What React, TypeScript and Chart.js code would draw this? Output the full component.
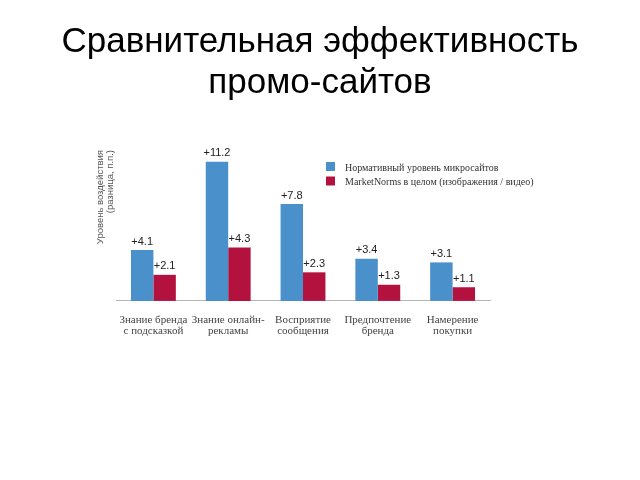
import React, { useEffect, useRef } from "react";
import { Chart, registerables } from "chart.js";

Chart.register(...registerables);

const titleLines = ["Сравнительная эффективность", "промо-сайтов"];
const categories = [
  ["Знание бренда", "с подсказкой"],
  ["Знание онлайн-", "рекламы"],
  ["Восприятие", "сообщения"],
  ["Предпочтение", "бренда"],
  ["Намерение", "покупки"],
];
const seriesNames = [
  "Нормативный уровень микросайтов",
  "MarketNorms в целом (изображения / видео)",
];
const microsites = [4.1, 11.2, 7.8, 3.4, 3.1];
const marketNorms = [2.1, 4.3, 2.3, 1.3, 1.1];
const yTitle = ["Уровень воздействия", "(разница, п.п.)"];
const colors = ["#4a90ca", "#b3123f"];

const bigTitle = {
  id: "bigTitle",
  afterDraw(chart: any) {
    const ctx = chart.ctx;
    ctx.save();
    ctx.font = "35px 'Liberation Sans', Arial, sans-serif";
    ctx.fillStyle = "#000";
    ctx.textAlign = "center";
    ctx.textBaseline = "middle";
    titleLines.forEach((t, i) => {
      ctx.fillText(t, chart.width / 2, 42 + i * 41);
    });
    ctx.restore();
  },
};

const valueLabels = {
  id: "valueLabels",
  afterDatasetsDraw(chart: any) {
    const ctx = chart.ctx;
    ctx.save();
    ctx.font = "11px 'Liberation Sans', Arial, sans-serif";
    ctx.fillStyle = "#222";
    ctx.textAlign = "center";
    ctx.textBaseline = "bottom";
    chart.data.datasets.forEach((ds: any, di: number) => {
      const meta = chart.getDatasetMeta(di);
      meta.data.forEach((el: any, i: number) => {
        ctx.fillText("+" + ds.data[i], el.x, el.y - 3);
      });
    });
    ctx.restore();
  },
};

const customLegend = {
  id: "customLegend",
  afterDraw(chart: any) {
    const ctx = chart.ctx;
    const a = chart.chartArea;
    const x = a.left + 210;
    const y = a.top + 12;
    ctx.save();
    ctx.font = "10px 'Liberation Serif', 'Times New Roman', serif";
    ctx.textBaseline = "middle";
    ctx.textAlign = "left";
    chart.data.datasets.forEach((ds: any, i: number) => {
      const yy = y + i * 14.5;
      ctx.fillStyle = ds.backgroundColor;
      ctx.fillRect(x, yy, 9, 9);
      ctx.fillStyle = "#333";
      ctx.fillText(ds.label, x + 19, yy + 6);
    });
    ctx.restore();
  },
};

export default function App() {
  const ref = useRef<HTMLCanvasElement>(null);
  useEffect(() => {
    if (!ref.current) return;
    const chart = new Chart(ref.current, {
      type: "bar",
      data: {
        labels: categories,
        datasets: [
          { label: seriesNames[0], data: microsites, backgroundColor: colors[0] },
          { label: seriesNames[1], data: marketNorms, backgroundColor: colors[1] },
        ],
      },
      plugins: [valueLabels, customLegend, bigTitle],
      options: {
        responsive: false,
        animation: false,
        layout: { padding: { left: 94, right: 150, top: 150, bottom: 130 } },
        datasets: {
          bar: { categoryPercentage: 0.6, barPercentage: 1.0 },
        },
        plugins: {
          legend: { display: false },
          tooltip: { enabled: false },
          title: { display: false },
        },
        scales: {
          x: {
            grid: { display: false, drawTicks: false },
            border: { display: true, color: "#b5b5b5", width: 1 },
            ticks: {
              color: "#444",
              padding: 13,
              maxRotation: 0,
              autoSkip: false,
              font: { family: "'Liberation Serif', 'Times New Roman', serif", size: 11, lineHeight: 1.05 },
            },
          },
          y: {
            min: 0,
            max: 12.15,
            grid: { display: false, drawTicks: false },
            border: { display: false },
            ticks: { display: false },
            title: {
              display: true,
              text: yTitle,
              align: "end",
              color: "#555",
              padding: { top: 2, bottom: 1 },
              font: { family: "'Liberation Sans', Arial, sans-serif", size: 9.5, lineHeight: 1.0 },
            },
          },
        },
      },
    });
    return () => chart.destroy();
  }, []);
  return (
    <div style={{ position: "fixed", left: 0, top: 0, width: 640, height: 480, background: "#fff" }}>
      <canvas ref={ref} width={640} height={480} />
    </div>
  );
}
